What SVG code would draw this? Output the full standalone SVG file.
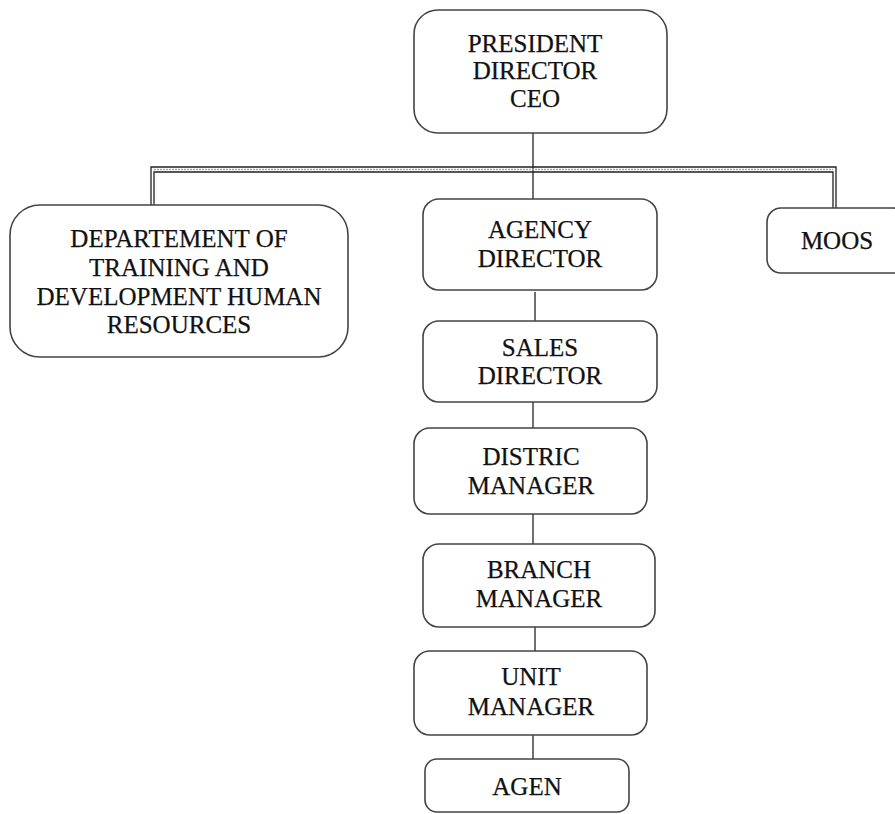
<svg xmlns="http://www.w3.org/2000/svg" width="895" height="814" viewBox="0 0 895 814">
<style>
.box{fill:#fff;stroke:#444;stroke-width:1.6}
.t{font-family:"Liberation Serif","Times New Roman",serif;font-size:25px;fill:#111;text-anchor:middle;stroke:#111;stroke-width:0.25}
.c{stroke:#222;stroke-width:1.3;fill:none}
</style>
<rect width="895" height="814" fill="#fff"/>
<g id="connectors">
<path class="c" d="M533,133 V199"/>
<path class="c" d="M151,205 V167 H836 V208"/>
<path class="c" d="M154,205 V172 H833 V208"/>
<line x1="154" y1="169.5" x2="833" y2="169.5" stroke="#aaa" stroke-width="1.4" stroke-dasharray="2,1"/>
<path class="c" d="M535,292 V321"/>
<path class="c" d="M533,402 V428"/>
<path class="c" d="M533,514 V544"/>
<path class="c" d="M535,627 V651"/>
<path class="c" d="M533,735 V759"/>
</g>
<g id="ceo">
<rect class="box" x="414" y="10" width="253" height="123" rx="24"/>
<text class="t" x="535" y="52">PRESIDENT</text>
<text class="t" x="535" y="79">DIRECTOR</text>
<text class="t" x="535" y="107">CEO</text>
</g>
<g id="dept">
<rect class="box" x="10" y="205" width="338" height="152" rx="30"/>
<text class="t" x="179" y="247">DEPARTEMENT OF</text>
<text class="t" x="179" y="276">TRAINING AND</text>
<text class="t" x="179" y="305">DEVELOPMENT HUMAN</text>
<text class="t" x="179" y="333">RESOURCES</text>
</g>
<g id="moos">
<rect class="box" x="767" y="208" width="140" height="65" rx="14"/>
<text class="t" x="837" y="249">MOOS</text>
</g>
<g id="agency">
<rect class="box" x="423" y="199" width="234" height="91" rx="16"/>
<text class="t" x="540" y="238">AGENCY</text>
<text class="t" x="540" y="267">DIRECTOR</text>
</g>
<g id="sales">
<rect class="box" x="423" y="321" width="234" height="81" rx="16"/>
<text class="t" x="540" y="356">SALES</text>
<text class="t" x="540" y="384">DIRECTOR</text>
</g>
<g id="district">
<rect class="box" x="414" y="428" width="233" height="86" rx="16"/>
<text class="t" x="531" y="465">DISTRIC</text>
<text class="t" x="531" y="494">MANAGER</text>
</g>
<g id="branch">
<rect class="box" x="423" y="544" width="232" height="83" rx="16"/>
<text class="t" x="539" y="578">BRANCH</text>
<text class="t" x="539" y="607">MANAGER</text>
</g>
<g id="unit">
<rect class="box" x="414" y="651" width="233" height="84" rx="16"/>
<text class="t" x="531" y="685">UNIT</text>
<text class="t" x="531" y="715">MANAGER</text>
</g>
<g id="agen">
<rect class="box" x="425" y="759" width="204" height="53" rx="12"/>
<text class="t" x="527" y="795">AGEN</text>
</g>
</svg>
